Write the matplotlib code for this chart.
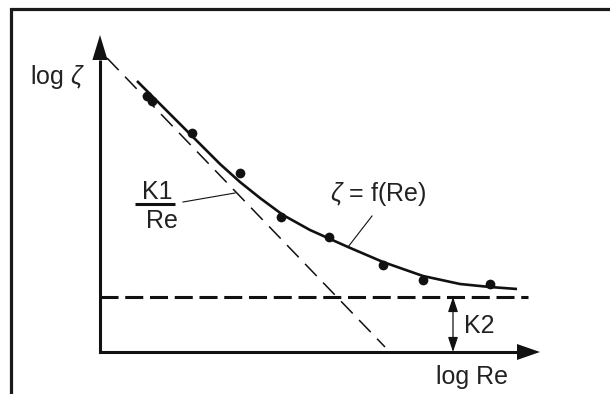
import matplotlib
matplotlib.use('Agg')
import matplotlib.pyplot as plt
from matplotlib.patches import Polygon

plt.rcParams['font.family'] = ['Liberation Sans', 'DejaVu Sans']
plt.rcParams['mathtext.fontset'] = 'custom'
plt.rcParams['mathtext.rm'] = 'Liberation Sans'
plt.rcParams['mathtext.it'] = 'Liberation Sans:italic'

# ---- data (log Re, log zeta) in schematic units ----
points_x = [1.175, 1.3, 2.3, 3.5, 4.525, 5.725, 7.075, 8.075, 9.75]
points_y = [6.4, 6.275, 5.475, 4.475, 3.375, 2.875, 2.175, 1.8, 1.7]

curve_x = [0.925, 1.625, 2.3, 3.0, 3.5, 4.0, 4.575, 5.25, 6.2, 7.075, 8.075, 9.0, 9.75, 10.425]
curve_y = [6.775, 6.075, 5.4, 4.7, 4.25, 3.85, 3.425, 3.05, 2.625, 2.25, 1.9, 1.7, 1.625, 1.575]

k1_x = [0.175, 7.125]
k1_y = [7.35, 0.125]

k2_level = 1.375
k2_x = [0.0, 10.7]

x_axis_len = 11.0
y_axis_len = 7.925

ink = '#111111'
txt = '#222222'

fig = plt.figure(figsize=(6.1, 3.94), dpi=100)
ax = fig.add_axes([0, 0, 1, 1])
ax.set_xlim(-2.5, 12.75)
ax.set_ylim(-1.05, 8.8)
ax.axis('off')

# frame (left and top edges)
ax.plot([0.018, 0.018, 1.0], [0.0, 0.977, 0.977], transform=ax.transAxes,
        color='#1a1a1a', lw=2.3, solid_joinstyle='miter', clip_on=False)

# axes with arrowheads
ah_len_y, ah_hw_y = 0.625, 0.19
ah_len_x, ah_hw_x = 0.575, 0.2
ax.plot([0, 0, x_axis_len - ah_len_x], [y_axis_len - ah_len_y, 0, 0], color=ink, lw=2.2,
        solid_joinstyle='miter', solid_capstyle='butt')
ax.add_patch(Polygon([[0, y_axis_len], [-ah_hw_y, y_axis_len - ah_len_y], [ah_hw_y, y_axis_len - ah_len_y]],
                     closed=True, color=ink, lw=0))
ax.add_patch(Polygon([[x_axis_len, 0], [x_axis_len - ah_len_x, ah_hw_x], [x_axis_len - ah_len_x, -ah_hw_x]],
                     closed=True, color=ink, lw=0))

# K2 horizontal dashed line
ax.plot(k2_x, [k2_level, k2_level], color=ink, lw=2.2, linestyle=(0, (5.9, 2.2)))

# K1/Re diagonal dashed line
ax.plot(k1_x, k1_y, color=ink, lw=1.1, linestyle=(0, (11, 6)))

# fitted curve
ax.plot(curve_x, curve_y, color=ink, lw=1.9, solid_capstyle='butt')

# measured points
ax.plot(points_x, points_y, 'o', color=ink, ms=7, mec='none')

# K2 double arrow
ax.annotate('', xy=(8.825, k2_level), xytext=(8.825, 0),
            arrowprops=dict(arrowstyle='<|-|>,head_length=0.6,head_width=0.2',
                            mutation_scale=15, color=ink, lw=0.9,
                            shrinkA=0, shrinkB=0))

fs = 18
ax.text(-1.075, 6.875, r'log $\zeta$', fontsize=fs, color=txt, ha='center', va='center')
ax.text(9.29, -0.625, 'log Re', fontsize=fs, color=txt, ha='center', va='center')
ax.text(9.1, 0.65, 'K2', fontsize=fs, color=txt, ha='left', va='center')
ax.text(6.94, 3.95, r'$\zeta$ = f(Re)', fontsize=fs, color=txt, ha='center', va='center')

# K1 / Re fraction
ax.text(1.44, 3.99, 'K1', fontsize=fs, color=txt, ha='center', va='center')
ax.plot([0.875, 1.875], [3.69, 3.69], color=ink, lw=2.2, solid_capstyle='butt')
ax.text(1.55, 3.28, 'Re', fontsize=fs, color=txt, ha='center', va='center')

# leader lines
ax.plot([2.075, 3.375], [3.75, 3.975], color=ink, lw=0.8)
ax.plot([6.8, 6.2], [3.4, 2.625], color=ink, lw=0.8)

fig.savefig('out.png', dpi=100)
